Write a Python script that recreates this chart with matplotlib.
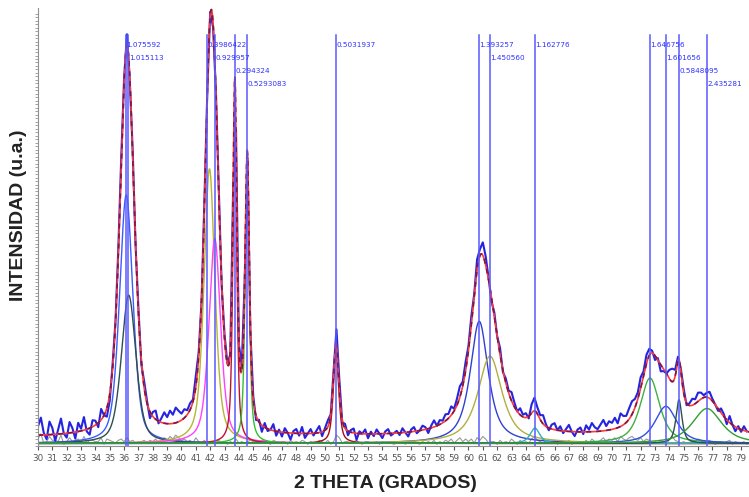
import matplotlib
matplotlib.use('Agg')
import matplotlib.pyplot as plt
import numpy as np

# fitted peak components: centre (2theta), height, FWHM, Lorentz fraction, colour
comp_center = [36.15, 36.32, 41.95, 42.32, 43.72, 44.58, 50.77,
               60.75, 61.50, 64.63, 72.65, 73.76, 74.67, 76.62]
comp_height = [0.57, 0.34, 0.63, 0.47, 0.76, 0.62, 0.21,
               0.28, 0.20, 0.035, 0.15, 0.085, 0.10, 0.08]
comp_fwhm = [1.1, 1.2, 0.9, 0.95, 0.32, 0.35, 0.45,
             1.5, 2.0, 0.8, 1.6, 1.8, 0.5, 2.4]
comp_eta = [0.45, 0.45, 0.55, 0.55, 0.6, 0.6, 0.6,
            0.8, 0.8, 0.7, 0.7, 0.7, 0.7, 0.7]
comp_color = ['#3a5cff', '#2f4f4f', '#b5b535', '#ff40ff', '#c01030', '#30c030', '#a01010',
              '#3040d0', '#b0b040', '#30b0c0', '#40b040', '#3050e0', '#305050', '#30a030']
background = 0.02

# marked reflections and their labels
line_pos = [36.10, 36.30, 41.78, 42.33, 43.73, 44.56, 50.77,
            60.73, 61.50, 64.63, 72.65, 73.76, 74.67, 76.62]
line_label = ['1.075592', '1.015113', '0.3986422', '0.929957', '0.294324', '0.5293083', '0.5031937',
              '1.393257', '1.450560', '1.162776', '1.646756', '1.601656', '0.5848095', '2.435281']
label_row = [0, 1, 0, 1, 2, 3, 0, 0, 1, 0, 0, 1, 2, 3]

# measured pattern: deviation from the fit (x1000) on a 0.2 degree step from 30.0
obs_start, obs_step = 30.0, 0.2
obs_resid = [
    20, 40, 5, -10, 30, 15, -15, 10, 35, 0, -10, 25, 10, -15, 20, 5, 30, -5, -15, 15, 10, -10, 25, 0, -20,
    -15, 10, 5, 15, 20, 10, 25, -10, 15, -5, 10, -10, 15, 5, -15, 10, 20, -5, 10, 25, 15, 30, 20, 35, 25,
    15, 20, 10, 15, 5, 25, 10, -5, 15, 0, 10, -10, 5, 15, -5, 10, 0, -10, 5, 20, -5, 10, 5, -10, -15,
    10, -10, 5, -15, 10, -5, 0, 15, -10, 5, -10, 10, 0, -15, 5, 10, -5, 15, -10, 0, 10, -5, 5, 15, -10,
    5, 15, 0, 10, 35, 25, -5, 10, -10, 5, 10, -15, 5, 0, 10, -10, 5, -5, 10, 0, -10, 5, 10, -5, 0,
    5, -5, 10, 0, -10, 5, 10, -5, 0, 10, 5, -10, 5, 15, 0, 10, 5, 15, 10, 20, 5, 15, 25, 10, 20,
    10, 20, 5, 25, 15, 30, 20, 5, -10, 10, 0, 15, -5, 10, 5, 20, 10, 0, 15, 5, 10, -5, 20, 30, 15,
    10, 20, 5, -5, 10, 15, 0, 10, -5, 5, 15, 0, -10, 5, 10, -5, 15, 5, 20, 10, 5, 15, 25, 10, 20,
    15, 25, 10, 30, 20, 15, 25, 30, 20, 15, 25, 10, 20, 15, 5, -10, 5, -15, -5, 0, 20, 30, 15, 10, 5,
    10, -5, 5, 15, 10, 20, 15, 5, 10, 15, 5, 0, -5, 10, 5, -10, 15, 0, -10, 5, -5, 10, 0,
]

xticks = list(range(30, 80))


def pseudo_voigt(x, c, h, w, eta):
    lor = 1.0 / (1.0 + ((x - c) / (w / 2.0)) ** 2)
    gau = np.exp(-4.0 * np.log(2.0) * ((x - c) / w) ** 2)
    return h * (eta * lor + (1.0 - eta) * gau)


def fit_curve(x):
    y = np.full_like(x, background)
    for c, h, w, e in zip(comp_center, comp_height, comp_fwhm, comp_eta):
        y += pseudo_voigt(x, c, h, w, e)
    return y


x_fine = np.arange(30.0, 79.6, 0.02)
x_obs = obs_start + obs_step * np.arange(len(obs_resid))
resid = np.array(obs_resid) / 1000.0
y_obs = fit_curve(x_obs) + resid

fig = plt.figure(figsize=(7.49, 4.97), dpi=100)
ax = fig.add_axes([38 / 749, 51 / 497, 711 / 749, 438 / 497])

# difference trace along the baseline
ax.plot(x_obs, 0.004 + np.abs(resid) * 0.6, color='#9a9a9a', lw=0.8)

for c, h, w, e, col in zip(comp_center, comp_height, comp_fwhm, comp_eta, comp_color):
    ax.plot(x_fine, background * 0.3 + pseudo_voigt(x_fine, c, h, w, e), color=col, lw=1.0)

ax.plot(x_obs, y_obs, color='#2424e0', lw=1.5)
ax.plot(x_fine, fit_curve(x_fine), color='#ff3a3a', lw=1.2)
ax.plot(x_fine, fit_curve(x_fine), color='#7a1848', lw=1.2, dashes=(3, 3))

row_y = [0.92, 0.89, 0.86, 0.83]
for p, lab, r in zip(line_pos, line_label, label_row):
    ax.plot([p, p], [0, 0.943], color='#5a5aff', lw=1.1)
    ax.text(p + 0.03, row_y[r], lab, color='#3030ff', fontsize=5.2,
            va='center', ha='left')

ax.set_xlim(30, 79.55)
ax.set_ylim(0, 1.005)
ax.set_xticks(xticks)
ax.set_xticklabels([str(t) for t in xticks])
ax.tick_params(axis='x', labelsize=6.3, colors='#555555', length=3, pad=3)
ax.set_yticks([])
ax.set_yticks(np.arange(0, 1.0, 0.008), minor=True)
ax.tick_params(axis='y', which='minor', length=2, color='#909090')
for s in ['top', 'right']:
    ax.spines[s].set_visible(False)
ax.spines['left'].set_color('#909090')
ax.spines['bottom'].set_color('#909090')

fig.text(385 / 749, 1 - 484 / 497, '2 THETA (GRADOS)', ha='center', va='center',
         fontsize=14, fontweight='bold', family='Liberation Sans', color='#222222')
fig.text(19 / 749, 1 - 215 / 497, 'INTENSIDAD (u.a.)', ha='center', va='center',
         rotation=90, fontsize=14, fontweight='bold', family='Liberation Sans', color='#222222')

fig.savefig('out.png', dpi=100)
